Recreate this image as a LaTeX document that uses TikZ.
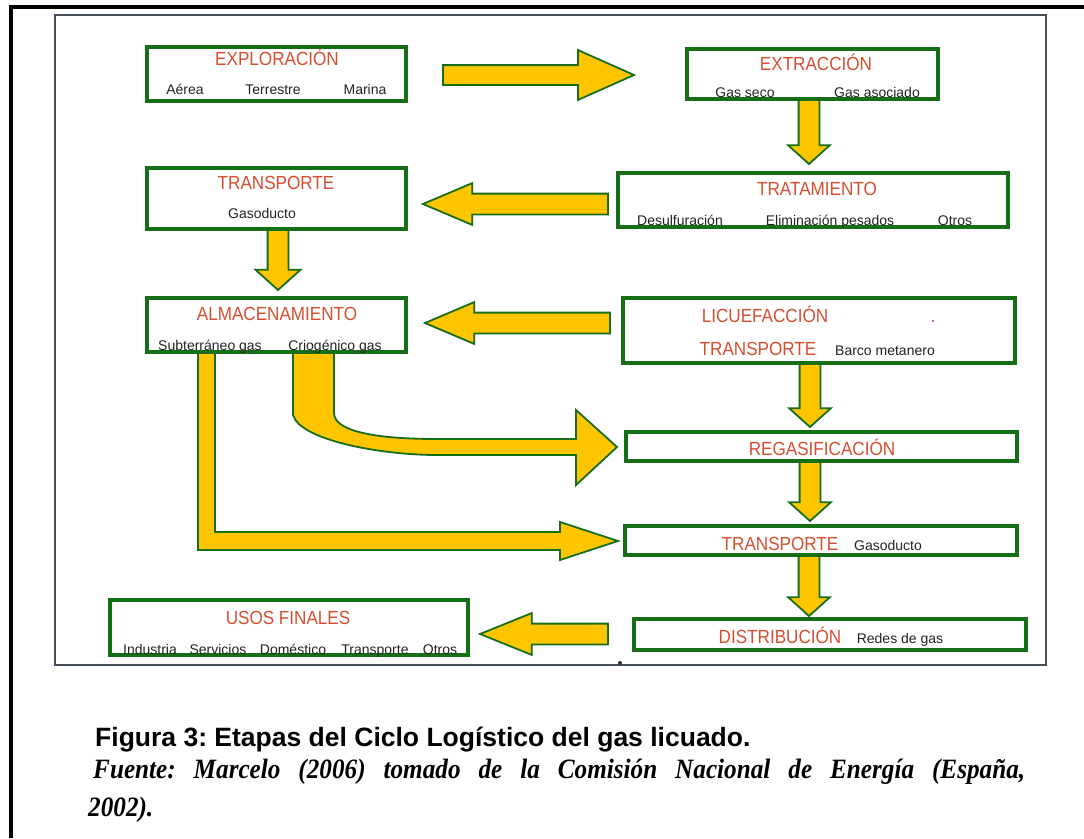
\documentclass[tikz,border=0pt]{standalone}
\usepackage{fontspec}
\setmainfont{Liberation Sans}
\newfontfamily\titlefont[FakeStretch=0.9]{Liberation Sans}
\newfontfamily\fuentefont[FakeStretch=0.9]{Liberation Serif}
\usetikzlibrary{shapes.arrows,backgrounds}
\frenchspacing

\definecolor{verde}{RGB}{22,110,22}
\definecolor{amarillo}{RGB}{255,198,0}
\definecolor{rojo}{RGB}{214,78,48}
\definecolor{gristexto}{RGB}{35,35,35}
\definecolor{marco}{RGB}{70,78,90}

\tikzset{
  caja/.style={draw=verde, line width=3.5pt, anchor=north west, inner sep=0pt, outer sep=0pt},
  titulo/.style={text=rojo, font=\titlefont\fontsize{19}{19}\selectfont, anchor=base, inner sep=0pt},
  item/.style={text=gristexto, font=\fontsize{14}{14}\selectfont, anchor=base, inner sep=0pt},
  flecha/.style={single arrow, draw=verde, fill=amarillo, line width=1.8pt,
    inner xsep=0pt, inner ysep=9.5pt, outer sep=0pt, single arrow head indent=0pt,
    single arrow head extend=10.5pt, minimum height=#1, anchor=tail},
  flechah/.style={flecha=#1, single arrow tip angle=46},
  flechav/.style={flecha=#1, single arrow tip angle=96, rotate=-90},
  flujo/.style={draw=verde, fill=amarillo, line width=1.8pt, line join=miter}
}

\begin{document}
\begin{tikzpicture}[x=1pt,y=-1pt]
  \useasboundingbox (0,0) rectangle (1084,838);
  \draw[line width=4pt] (9,7) -- (1084,7);
  \draw[line width=3.5pt] (11,5) -- (11,838);
  \draw[marco, line width=1.5pt] (55,15) rectangle (1046,665);
  \fill[black!80] (620,663) circle (2pt);

  \node[caja, minimum width=259pt, minimum height=54pt] (expl) at (147,47) {};
  \node[titulo] (expl-t) at (277,65) {EXPLORACIÓN};
  \node[item] (expl-a) at (185,94) {Aérea};
  \node[item] (expl-b) at (273,94) {Terrestre};
  \node[item] (expl-c) at (365,94) {Marina};

  \node[caja, minimum width=251pt, minimum height=50pt] (extr) at (687,49) {};
  \node[titulo] (extr-t) at (816,70) {EXTRACCIÓN};
  \node[item] (extr-a) at (745,97) {Gas seco};
  \node[item] (extr-b) at (877,97) {Gas asociado};

  \node[caja, minimum width=259pt, minimum height=61pt] (transp1) at (147,168) {};
  \node[titulo] (transp1-t) at (276,189) {TRANSPORTE};
  \node[item] (transp1-a) at (262,218) {Gasoducto};

  \node[caja, minimum width=390pt, minimum height=54pt] (trat) at (618,173) {};
  \node[titulo] (trat-t) at (817,195) {TRATAMIENTO};
  \node[item] (trat-a) at (680,225) {Desulfuración};
  \node[item] (trat-b) at (830,225) {Eliminación pesados};
  \node[item] (trat-c) at (955,225) {Otros};

  \node[caja, minimum width=259pt, minimum height=54pt] (alm) at (147,298) {};
  \node[titulo] (alm-t) at (277,320) {ALMACENAMIENTO};
  \node[item] (alm-a) at (210,350) {Subterráneo gas};
  \node[item] (alm-b) at (335,350) {Criogénico gas};

  \node[caja, minimum width=392pt, minimum height=65pt] (licue) at (623,298) {};
  \node[titulo] (licue-t) at (765,322) {LICUEFACCIÓN};
  \node[titulo] (licue-p) at (933,322) {.};
  \node[titulo] (licue-u) at (758,355) {TRANSPORTE};
  \node[item] (licue-a) at (885,355) {Barco metanero};

  \node[caja, minimum width=391pt, minimum height=29pt] (regas) at (626,432) {};
  \node[titulo] (regas-t) at (822,455) {REGASIFICACIÓN};

  \node[caja, minimum width=392pt, minimum height=29pt] (transp2) at (625,526) {};
  \node[titulo] (transp2-t) at (780,550) {TRANSPORTE};
  \node[item] (transp2-a) at (888,550) {Gasoducto};

  \node[caja, minimum width=392pt, minimum height=31pt] (distr) at (634,619) {};
  \node[titulo] (distr-t) at (780,643) {DISTRIBUCIÓN};
  \node[item] (distr-a) at (900,643) {Redes de gas};

  \node[caja, minimum width=358pt, minimum height=55pt] (usos) at (110,600) {};
  \node[titulo] (usos-t) at (288,624) {USOS FINALES};
  \node[item] (usos-a) at (150,654) {Industria};
  \node[item] (usos-b) at (218,654) {Servicios};
  \node[item] (usos-c) at (293,654) {Doméstico};
  \node[item] (usos-d) at (375,654) {Transporte};
  \node[item] (usos-e) at (440,654) {Otros};

  \begin{scope}[on background layer]
    \fill[white] (0,0) rectangle (1084,838);
    \node[flechah=191pt, inner ysep=9pt, single arrow head extend=15pt, single arrow tip angle=48] (f1) at (443,75) {};
    \node[flechav=64pt] (f2) at (809,100) {};
    \node[flechah=185pt, rotate=180] (f3) at (608,204) {};
    \node[flechav=61pt, single arrow head extend=12pt] (f4) at (278,229) {};
    \node[flechah=185pt, rotate=180] (f5) at (610,323) {};
    \node[flechav=64pt] (f6) at (810,363) {};
    \node[flechav=60pt] (f7) at (810,461) {};
    \node[flechav=61pt] (f8) at (809,555) {};
    \node[flechah=128pt, rotate=180, single arrow tip angle=44] (f9) at (608,634) {};
    \draw[flujo] (293,352) -- (293,415) .. controls (300,440) and (380,455) .. (437,455)
      -- (576,455) -- (576,485) -- (617,447) -- (576,410) -- (576,439) -- (437,439)
      .. controls (370,439) and (334,430) .. (334,413) -- (334,352) -- cycle;
    \draw[flujo] (198,352) -- (198,550) -- (560,550) -- (560,560) -- (618,541)
      -- (560,522) -- (560,532) -- (215,532) -- (215,352) -- cycle;
  \end{scope}

  \node[anchor=base west, inner sep=0pt, font=\bfseries\fontsize{26.5}{26.5}\selectfont] (fig) at (95,746)
    {Figura 3: Etapas del Ciclo Logístico del gas licuado.};
  \node[anchor=base west, inner sep=0pt, font=\fuentefont\bfseries\itshape\fontsize{28}{28}\selectfont] (fuente) at (93,778)
    {\makebox[932pt][s]{Fuente: Marcelo (2006) tomado de la Comisión Nacional de Energía (España,}};
  \node[anchor=base west, inner sep=0pt, font=\fuentefont\bfseries\itshape\fontsize{28}{28}\selectfont] (anio) at (88,816)
    {2002).};
\end{tikzpicture}
\end{document}
